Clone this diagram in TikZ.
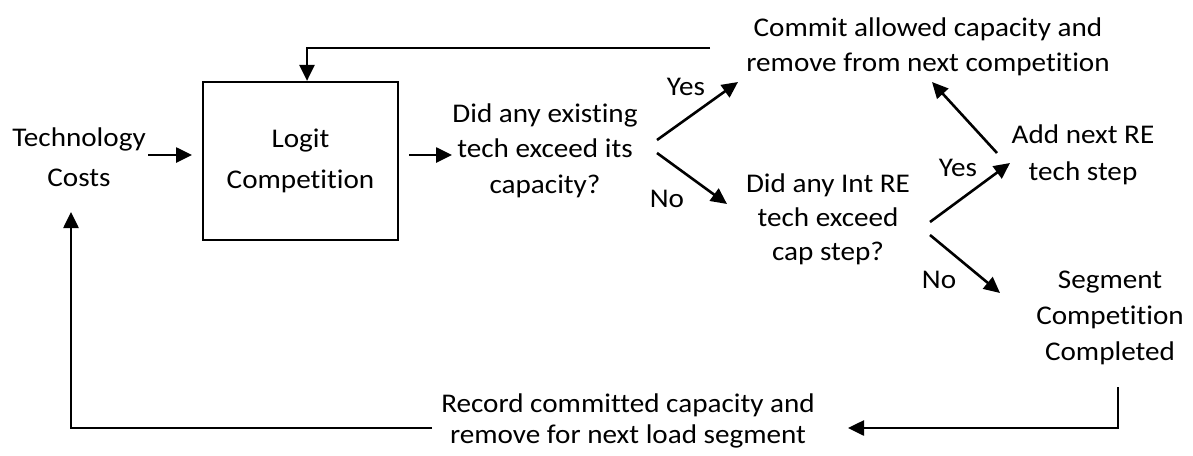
\documentclass[tikz,border=0pt]{standalone}
\usepackage{fontspec}
\setmainfont[FakeStretch=1.08, Ligatures=NoCommon]{Carlito}
\usetikzlibrary{arrows.meta}
\begin{document}
\begin{tikzpicture}[x=1pt,y=-1pt,
  txt/.style={font=\fontsize{27}{#1}\selectfont, align=center, inner sep=0pt, anchor=base},
  txt/.default=36,
  flow/.style={line width=2.6pt, -{Triangle[length=16pt,width=15pt]}}]
\useasboundingbox (0,0) rectangle (1193,455);

% process nodes (placed at the baseline of their last line)
\node[txt=40] (cost) at (79,186) {Technology\\Costs};
\node[draw, line width=2.2pt, minimum width=195pt, minimum height=158pt, inner sep=0pt,
      font=\fontsize{27}{41}\selectfont, align=center] (logit) at (300.5,161) {Logit\\Competition};
\node[txt=35.5] (q1) at (545,193) {Did any existing\\tech exceed its\\capacity?};
\node[txt=35] (commit) at (928,71) {Commit allowed capacity and\\remove from next competition};
\node[txt=34] (q2) at (828,260) {Did any Int RE\\tech exceed\\cap step?};
\node[txt=37] (add) at (1083,180) {Add next RE\\tech step};
\node[txt=36] (seg) at (1110,360) {Segment\\Competition\\Completed};
\node[txt=31] (rec) at (628,443) {Record committed capacity and\\remove for next load segment};

% branch labels
\node[txt] (y1) at (686,95) {Yes};
\node[txt] (n1) at (667,207) {No};
\node[txt] (y2) at (958,176) {Yes};
\node[txt] (n2) at (939,288) {No};

% connector end points
\coordinate (costout) at (148,155);
\coordinate (logitin) at (192,155);
\coordinate (logitout) at (409,155);
\coordinate (q1in) at (452,155);
\coordinate (q1up) at (657,140);
\coordinate (q1dn) at (657,153);
\coordinate (commitin) at (738,82);
\coordinate (q2in) at (727,204);
\coordinate (q2up) at (930,222);
\coordinate (q2dn) at (930,235);
\coordinate (addin) at (1010,163);
\coordinate (addout) at (997,153);
\coordinate (commitin2) at (932,82);
\coordinate (segin) at (1000,293);
\coordinate (commitout) at (710,48);
\coordinate (segout) at (1118,387);
\coordinate (recin) at (848,428);
\coordinate (recout) at (432,428);
\coordinate (costin) at (71,212);

% connectors
\draw[flow] (costout) -- (logitin);
\draw[flow] (logitout) -- (q1in);
\draw[flow] (q1up) -- (commitin);
\draw[flow] (q1dn) -- (q2in);
\draw[flow] (q2up) -- (addin);
\draw[flow] (addout) -- (commitin2);
\draw[flow] (q2dn) -- (segin);
\draw[flow] (commitout) -| ([xshift=6.5pt]logit.north);
\draw[flow] (segout) |- (recin);
\draw[flow] (recout) -| (costin);
\end{tikzpicture}
\end{document}
